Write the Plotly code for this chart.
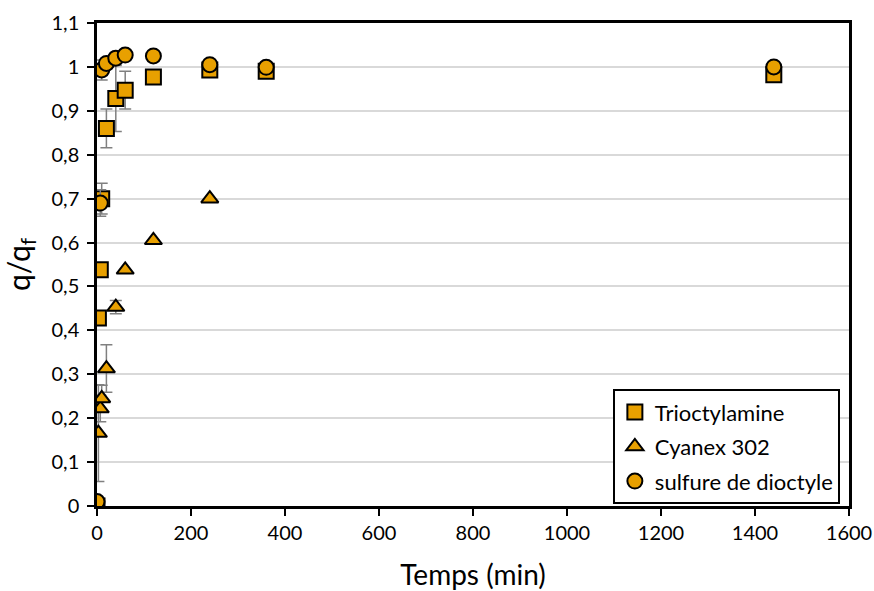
import plotly.graph_objects as go

# Time points (min) and normalised uptake q/qf for each extractant
t_toa = [0, 3, 7, 10, 20, 40, 60, 120, 240, 360, 1440]
q_toa = [0.0, 0.428, 0.538, 0.70, 0.86, 0.928, 0.947, 0.977, 0.993, 0.99, 0.982]
e_toa = [0.0, 0.0, 0.0, 0.035, 0.044, 0.075, 0.043, 0.0, 0.0, 0.0, 0.0]

t_cyx = [0, 3, 7, 10, 20, 40, 60, 120, 240]
q_cyx = [0.0, 0.166, 0.222, 0.245, 0.313, 0.453, 0.538, 0.605, 0.70]
e_cyx = [0.0, 0.11, 0.03, 0.03, 0.054, 0.015, 0.0, 0.0, 0.0]

t_sdo = [0, 7, 10, 20, 40, 60, 120, 240, 360, 1440]
q_sdo = [0.01, 0.69, 0.993, 1.008, 1.02, 1.027, 1.025, 1.005, 0.999, 1.0]
e_sdo = [0.0, 0.03, 0.023, 0.0, 0.0, 0.0, 0.0, 0.0, 0.0, 0.0]

series_names = ["Trioctylamine", "Cyanex 302", "sulfure de dioctyle"]

y_ticks = [0, 0.1, 0.2, 0.3, 0.4, 0.5, 0.6, 0.7, 0.8, 0.9, 1.0, 1.1]
y_tick_text = ["0", "0,1", "0,2", "0,3", "0,4", "0,5", "0,6", "0,7", "0,8", "0,9", "1", "1,1"]
x_ticks = [0, 200, 400, 600, 800, 1000, 1200, 1400, 1600]

FILL = "#E8A000"
FONT = "Lato, 'Open Sans', sans-serif"

fig = go.Figure()
for name, t, q, e, sym in [
    (series_names[0], t_toa, q_toa, e_toa, "square"),
    (series_names[1], t_cyx, q_cyx, e_cyx, "triangle-up"),
    (series_names[2], t_sdo, q_sdo, e_sdo, "circle"),
]:
    fig.add_trace(go.Scatter(
        x=t, y=q, name=name, mode="markers", legendgroup=name,
        marker=dict(symbol=sym, size=15, color=FILL,
                    line=dict(color="black", width=2)),
        error_y=dict(type="data", array=e, visible=True,
                     color="#808080", thickness=1.5, width=6),
    ))

fig.update_layout(
    width=874, height=591,
    margin=dict(l=97, r=25, t=23, b=85),
    paper_bgcolor="white", plot_bgcolor="white",
    font=dict(family=FONT, size=20, color="black"),
    showlegend=True,
    legend=dict(
        x=0.686, y=0.242, xanchor="left", yanchor="top",
        bordercolor="black", borderwidth=2, bgcolor="white",
        font=dict(size=22), traceorder="grouped", tracegroupgap=3,
        itemwidth=30,
    ),
    xaxis=dict(
        range=[0, 1600], tickvals=x_ticks, automargin=False,
        showline=True, linecolor="black", linewidth=2.5, mirror=True,
        ticks="outside", ticklen=7, tickwidth=2, tickcolor="black",
        showgrid=False, zeroline=False,
        title=dict(text="Temps (min)", font=dict(size=28), standoff=26),
    ),
    yaxis=dict(
        range=[0, 1.1], tickvals=y_ticks, ticktext=y_tick_text, automargin=False,
        showline=True, linecolor="black", linewidth=2.5, mirror=True,
        ticks="outside", ticklen=7, tickwidth=2, tickcolor="black",
        ticklabelstandoff=4,
        showgrid=True, gridcolor="#d9d9d9", gridwidth=1.5, zeroline=False,
        title=dict(text="q/q<sub>f</sub>", font=dict(size=30), standoff=14),
    ),
)

fig.write_html("out.html")
